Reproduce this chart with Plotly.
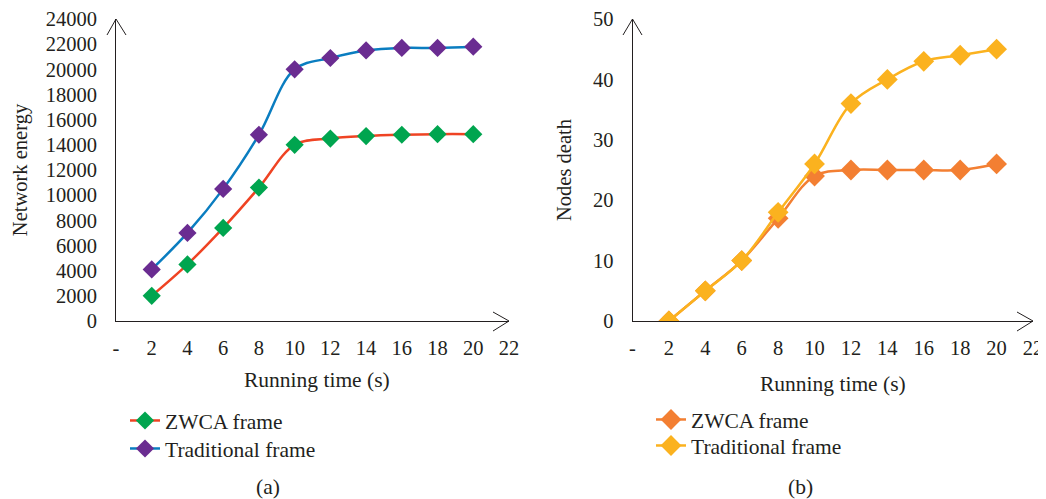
import plotly.graph_objects as go

# ---- data ----
time_s = [2, 4, 6, 8, 10, 12, 14, 16, 18, 20]
energy_zwca = [2000, 4500, 7400, 10600, 14000, 14500, 14700, 14800, 14850, 14850]
energy_trad = [4100, 7000, 10500, 14800, 20000, 20900, 21500, 21700, 21700, 21800]
death_zwca = [0, 5, 10, 17, 24, 25, 25, 25, 25, 26]
death_trad = [0, 5, 10, 18, 26, 36, 40, 43, 44, 45]
x_tickvals = [0, 2, 4, 6, 8, 10, 12, 14, 16, 18, 20, 22]
x_ticktext = ["-", "2", "4", "6", "8", "10", "12", "14", "16", "18", "20", "22"]
energy_ticks = list(range(0, 24001, 2000))
energy_ticktext = [str(v) for v in energy_ticks]
death_ticks = [0, 10, 20, 30, 40, 50]
death_ticktext = [str(v) for v in death_ticks]

OFF = 8  # default page body margin
W, H = 1046 - OFF, 499 - OFF
FONT = "Liberation Serif"
INK = "#231f20"


def px(x):
    return (x - OFF) / W


def py(y):
    return 1 - (y - OFF) / H


fig = go.Figure()

fig.add_trace(go.Scatter(x=time_s, y=energy_zwca, name="ZWCA frame", mode="lines+markers",
                         line=dict(color="#ef4323", width=2.5, shape="spline", smoothing=1),
                         marker=dict(symbol="diamond", size=14, color="#00a54f"),
                         xaxis="x", yaxis="y", legend="legend", showlegend=True))
fig.add_trace(go.Scatter(x=time_s, y=energy_trad, name="Traditional frame", mode="lines+markers",
                         line=dict(color="#0a7dc0", width=2.5, shape="spline", smoothing=1),
                         marker=dict(symbol="diamond", size=14, color="#6a2c91"),
                         xaxis="x", yaxis="y", legend="legend2", showlegend=True))
fig.add_trace(go.Scatter(x=time_s, y=death_zwca, name="ZWCA frame", mode="lines+markers",
                         line=dict(color="#f37f32", width=2.5, shape="spline", smoothing=1),
                         marker=dict(symbol="diamond", size=16, color="#f37f32"),
                         xaxis="x2", yaxis="y2", legend="legend3", showlegend=True))
fig.add_trace(go.Scatter(x=time_s, y=death_trad, name="Traditional frame", mode="lines+markers",
                         line=dict(color="#fbb21f", width=2.5, shape="spline", smoothing=1),
                         marker=dict(symbol="diamond", size=16, color="#fbb21f"),
                         xaxis="x2", yaxis="y2", legend="legend4", showlegend=True))

xcommon = dict(range=[0, 22], tickvals=x_tickvals, ticktext=x_ticktext, showline=True,
               linecolor=INK, linewidth=1, showgrid=False, zeroline=False, ticks="",
               automargin=False, ticklabelstandoff=8,
               tickfont=dict(family=FONT, size=20.5, color=INK))
ycommon = dict(showline=True, linecolor=INK, linewidth=1, showgrid=False, zeroline=False,
               ticks="", automargin=False, ticklabelstandoff=14,
               tickfont=dict(family=FONT, size=20.5, color=INK))


def leg(x, y):
    return dict(x=px(x), y=py(y), xanchor="left", yanchor="top", bgcolor="rgba(0,0,0,0)",
                font=dict(family=FONT, size=21.5, color=INK), itemwidth=30, visible=True)


fig.update_layout(
    width=W, height=H, margin=dict(l=0, r=0, t=0, b=0, autoexpand=False),
    paper_bgcolor="white", plot_bgcolor="white", showlegend=True,
    font=dict(family=FONT, size=20, color=INK),
    xaxis=dict(domain=[px(116), px(509)], anchor="y", **xcommon),
    yaxis=dict(domain=[py(321), py(19)], anchor="x", range=[0, 24000], tickvals=energy_ticks,
               ticktext=energy_ticktext,
               title=dict(text="Network energy", font=dict(family=FONT, size=20.5, color=INK), standoff=12),
               **ycommon),
    xaxis2=dict(domain=[px(632.5), px(1033)], anchor="y2", **xcommon),
    yaxis2=dict(domain=[py(321), py(19)], anchor="x2", range=[0, 50], tickvals=death_ticks,
                ticktext=death_ticktext,
                title=dict(text="Nodes death", font=dict(family=FONT, size=20.5, color=INK), standoff=15),
                **ycommon),
    legend=leg(125, 400),
    legend2=leg(125, 428),
    legend3=leg(651, 399),
    legend4=leg(651, 425),
)

annotations = [
    dict(text="Running time (s)", x=px(316.5), y=py(380)),
    dict(text="Running time (s)", x=px(833), y=py(384)),
    dict(text="(a)", x=px(268), y=py(487)),
    dict(text="(b)", x=px(800), y=py(487)),
]
for a in annotations:
    fig.add_annotation(xref="paper", yref="paper", showarrow=False, xanchor="center", yanchor="middle",
                       font=dict(family=FONT, size=21.5, color=INK), **a)

arrows = [
    [(107, 35), (116, 19), (126, 35)],
    [(493, 312), (509, 321), (493, 331)],
    [(623, 35), (632.5, 19), (642, 35)],
    [(1017, 312), (1033, 321), (1017, 331)],
]
for pts in arrows:
    path = "M {} {} L {} {} L {} {}".format(px(pts[0][0]), py(pts[0][1]), px(pts[1][0]), py(pts[1][1]),
                                            px(pts[2][0]), py(pts[2][1]))
    fig.add_shape(type="path", path=path, xref="paper", yref="paper", line=dict(color=INK, width=1))

fig.write_html("out.html")
